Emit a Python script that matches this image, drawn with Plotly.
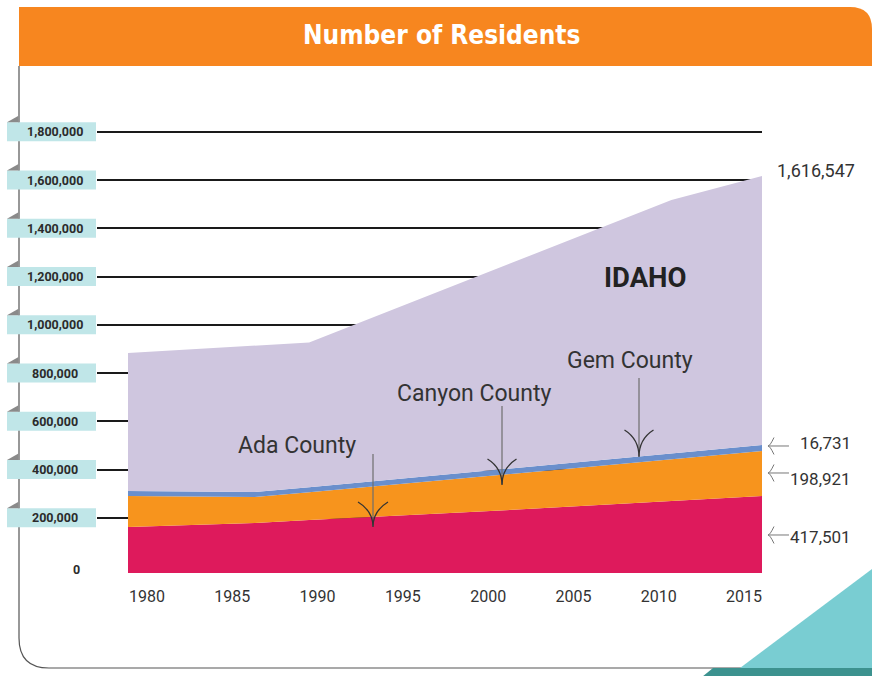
import plotly.graph_objects as go

# ---------------- data ----------------
years = [1980, 1987, 1990, 2000, 2010, 2015]
ada = [161700, 178200, 190700, 228000, 269400, 290200]
canyon = [128500, 107800, 114800, 145900, 172900, 186500]
gem = [20700, 20700, 21100, 22400, 24400, 24900]
idaho = [883000, 913200, 926400, 1221600, 1517100, 1616547]

tick_years = [1980, 1985, 1990, 1995, 2000, 2005, 2010, 2015]
y_ticks = [200000, 400000, 600000, 800000, 1000000, 1200000, 1400000, 1600000, 1800000]
y_tick_labels = ["200,000", "400,000", "600,000", "800,000", "1,000,000",
                 "1,200,000", "1,400,000", "1,600,000", "1,800,000"]
end_labels = ["1,616,547", "16,731", "198,921", "417,501"]
county_labels = ["Ada County", "Canyon County", "Gem County"]
title_text = "Number of Residents"
state_label = "IDAHO"

# ---------------- styling / geometry ----------------
W, H = 872, 676
L, R, T, B = 97, 762, 100, 573          # plot area in pixels
ZERO_PX = 566                            # pixel row of value 0
Y_PER_PX = 200000 / 48.25
Y_MIN = (ZERO_PX - B) * Y_PER_PX
Y_MAX = (ZERO_PX - T) * Y_PER_PX
DATA_X0_PX, DATA_X1_PX = 128, 762
px_per_yr = (DATA_X1_PX - DATA_X0_PX) / (years[-1] - years[0])
x_range = [years[0] - (DATA_X0_PX - L) / px_per_yr, years[-1] + (R - DATA_X1_PX) / px_per_yr]
LBL_X0_PX, LBL_X1_PX = 147, 744
lbl_ppy = (LBL_X1_PX - LBL_X0_PX) / (tick_years[-1] - tick_years[0])
x2_range = [tick_years[0] - (LBL_X0_PX - L) / lbl_ppy, tick_years[-1] + (R - LBL_X1_PX) / lbl_ppy]

RED, ORANGE, BLUE, PURPLE = "#de1a5c", "#f7941d", "#6a8fcc", "#cfc6df"
TEXT = "#2b2b2b"
FONT = "Roboto"


def fx(x):
    return (x - L) / (R - L)


def fy(y):
    return (B - y) / (B - T)


def path(cmds):
    out = []
    for c in cmds:
        if c[0] == "Z":
            out.append("Z")
        elif c[0] == "Q":
            out.append(f"Q{fx(c[1]):.5f},{fy(c[2]):.5f} {fx(c[3]):.5f},{fy(c[4]):.5f}")
        else:
            out.append(f"{c[0]}{fx(c[1]):.5f},{fy(c[2]):.5f}")
    return " ".join(out)


def vpx(v):
    return ZERO_PX - v / Y_PER_PX


cum1 = ada
cum2 = [a + b for a, b in zip(ada, canyon)]
cum3 = [a + b for a, b in zip(cum2, gem)]

fig = go.Figure()
fig.add_trace(go.Scatter(x=years, y=[Y_MIN] * len(years), mode="lines",
                         line=dict(width=0), hoverinfo="skip", showlegend=False))
for ys, col, name in [(cum1, RED, "Ada County"), (cum2, ORANGE, "Canyon County"),
                      (cum3, BLUE, "Gem County"), (idaho, PURPLE, "Idaho")]:
    fig.add_trace(go.Scatter(x=years, y=ys, mode="lines", fill="tonexty",
                             fillcolor=col, line=dict(width=0, color=col),
                             name=name, showlegend=False))
# carrier trace for the label axis
fig.add_trace(go.Scatter(x=tick_years, y=[None] * len(tick_years), xaxis="x2",
                         mode="markers", showlegend=False, hoverinfo="skip"))

shapes = []
annotations = []

# title bar
shapes.append(dict(type="path", xref="paper", yref="paper", layer="above",
                   path=path([("M", 19, 66), ("L", 19, 7), ("L", 850, 7),
                              ("Q", 872, 7, 872, 29), ("L", 872, 66), ("Z",)]),
                   fillcolor="#f7861f", line=dict(width=0)))
annotations.append(dict(xref="paper", yref="paper", x=fx(441), y=fy(35), text=title_text,
                        showarrow=False, xanchor="center", yanchor="middle",
                        font=dict(family="Liberation Sans Narrow, DejaVu Sans Condensed, Roboto",
                                  size=26, color="white", weight="bold")))

# frame line
shapes.append(dict(type="path", xref="paper", yref="paper", layer="below",
                   path=path([("M", 19, 66), ("L", 19, 638), ("Q", 19, 668, 49, 668),
                              ("L", 741, 668)]),
                   line=dict(color="#555555", width=1.2)))
# teal corner decoration
shapes.append(dict(type="path", xref="paper", yref="paper", layer="above",
                   path=path([("M", 740, 668), ("L", 872, 569), ("L", 872, 668), ("Z",)]),
                   fillcolor="#79cdd2", line=dict(width=0)))
shapes.append(dict(type="path", xref="paper", yref="paper", layer="above",
                   path=path([("M", 713, 668), ("L", 872, 668), ("L", 872, 677),
                              ("L", 702, 677), ("Z",)]),
                   fillcolor="#3c928f", line=dict(width=0)))

# y tick label boxes
for v, lab in zip(y_ticks, y_tick_labels):
    cy = vpx(v)
    shapes.append(dict(type="rect", xref="paper", yref="paper", layer="above",
                       x0=fx(7), x1=fx(96), y0=fy(cy + 9.5), y1=fy(cy - 9.5),
                       fillcolor="#c0e6e8", line=dict(width=0)))
    top = cy - 9.5
    shapes.append(dict(type="path", xref="paper", yref="paper", layer="above",
                       path=path([("M", 7, top), ("L", 18.5, top - 6.5), ("L", 18.5, top), ("Z",)]),
                       fillcolor="#8a8a8a", line=dict(width=0)))
    annotations.append(dict(xref="paper", yref="paper", x=fx(55), y=fy(cy), text=f"<b>{lab}</b>",
                            showarrow=False, xanchor="center", yanchor="middle",
                            font=dict(family=FONT, size=12.5, color=TEXT)))
annotations.append(dict(xref="paper", yref="paper", x=fx(76), y=fy(569), text="<b>0</b>",
                        showarrow=False, xanchor="center", yanchor="middle",
                        font=dict(family=FONT, size=12.5, color=TEXT)))

# IDAHO label
annotations.append(dict(xref="paper", yref="paper", x=fx(645), y=fy(277), text=f"<b>{state_label}</b>",
                        showarrow=False, xanchor="center", yanchor="middle",
                        font=dict(family=FONT, size=27.5, color="#222222")))

# county labels with down arrows
county_geo = [  # label center, shaft top, apex, barb half-width, barb height
    ((297, 445), (373, 454), 527, 15, 25),
    ((474, 393), (502, 406), 485, 14.5, 26),
    ((630, 360), (639, 378), 457, 14.5, 27),
]
for lab, ((lx, ly), (sx, sy), ay, bw, bh) in zip(county_labels, county_geo):
    annotations.append(dict(xref="paper", yref="paper", x=fx(lx), y=fy(ly), text=lab,
                            showarrow=False, xanchor="center", yanchor="middle",
                            font=dict(family=FONT, size=23, color="#333333")))
    shapes.append(dict(type="line", xref="paper", yref="paper", layer="above",
                       x0=fx(sx), x1=fx(sx), y0=fy(sy), y1=fy(ay - 1),
                       line=dict(color="#6e6e6e", width=1.2)))
    shapes.append(dict(type="path", xref="paper", yref="paper", layer="above",
                       path=path([("M", sx - bw, ay - bh), ("Q", sx, ay - bh + 9, sx, ay),
                                  ("M", sx + bw, ay - bh), ("Q", sx, ay - bh + 9, sx, ay)]),
                       line=dict(color="#333333", width=1.3)))

# right-hand value labels
end_geo = [((857, 170), None), ((853, 443), 446), ((853, 479), 473), ((853, 537), 535)]
end_size = [18, 17, 17, 17]
for lab, ((tx, ty), arr_y), fs in zip(end_labels, end_geo, end_size):
    annotations.append(dict(xref="paper", yref="paper", x=fx(tx), y=fy(ty), text=lab,
                            showarrow=False, xanchor="right", yanchor="middle",
                            font=dict(family=FONT, size=fs, color="#333333")))
    if arr_y is not None:
        shapes.append(dict(type="path", xref="paper", yref="paper", layer="above",
                           path=path([("M", 789, arr_y), ("L", 768.5, arr_y),
                                      ("M", 774, arr_y - 8.5), ("Q", 770, arr_y, 768, arr_y),
                                      ("M", 774, arr_y + 8.5), ("Q", 770, arr_y, 768, arr_y)]),
                           line=dict(color="#777777", width=1)))

fig.update_layout(
    width=W, height=H, autosize=False,
    margin=dict(l=L, r=W - R, t=T, b=H - B, pad=0),
    paper_bgcolor="white", plot_bgcolor="rgba(0,0,0,0)",
    showlegend=False,
    xaxis=dict(range=x_range, visible=False, fixedrange=True),
    xaxis2=dict(range=x2_range, overlaying="x", anchor="y", side="bottom",
                tickvals=tick_years, ticktext=[str(t) for t in tick_years],
                showgrid=False, zeroline=False, showline=False,
                ticks="outside", ticklen=9, tickcolor="rgba(0,0,0,0)",
                tickfont=dict(family=FONT, size=16, color="#333333")),
    yaxis=dict(range=[Y_MIN, Y_MAX], tickvals=y_ticks, showticklabels=False,
               showgrid=True, gridcolor="#1a1a1a", gridwidth=1.5,
               zeroline=False, showline=False, ticks=""),
    shapes=shapes,
    annotations=annotations,
)

fig.write_html("out.html", config={"displayModeBar": False},
               post_script="document.body.style.margin='0';document.body.style.overflow='hidden';")
